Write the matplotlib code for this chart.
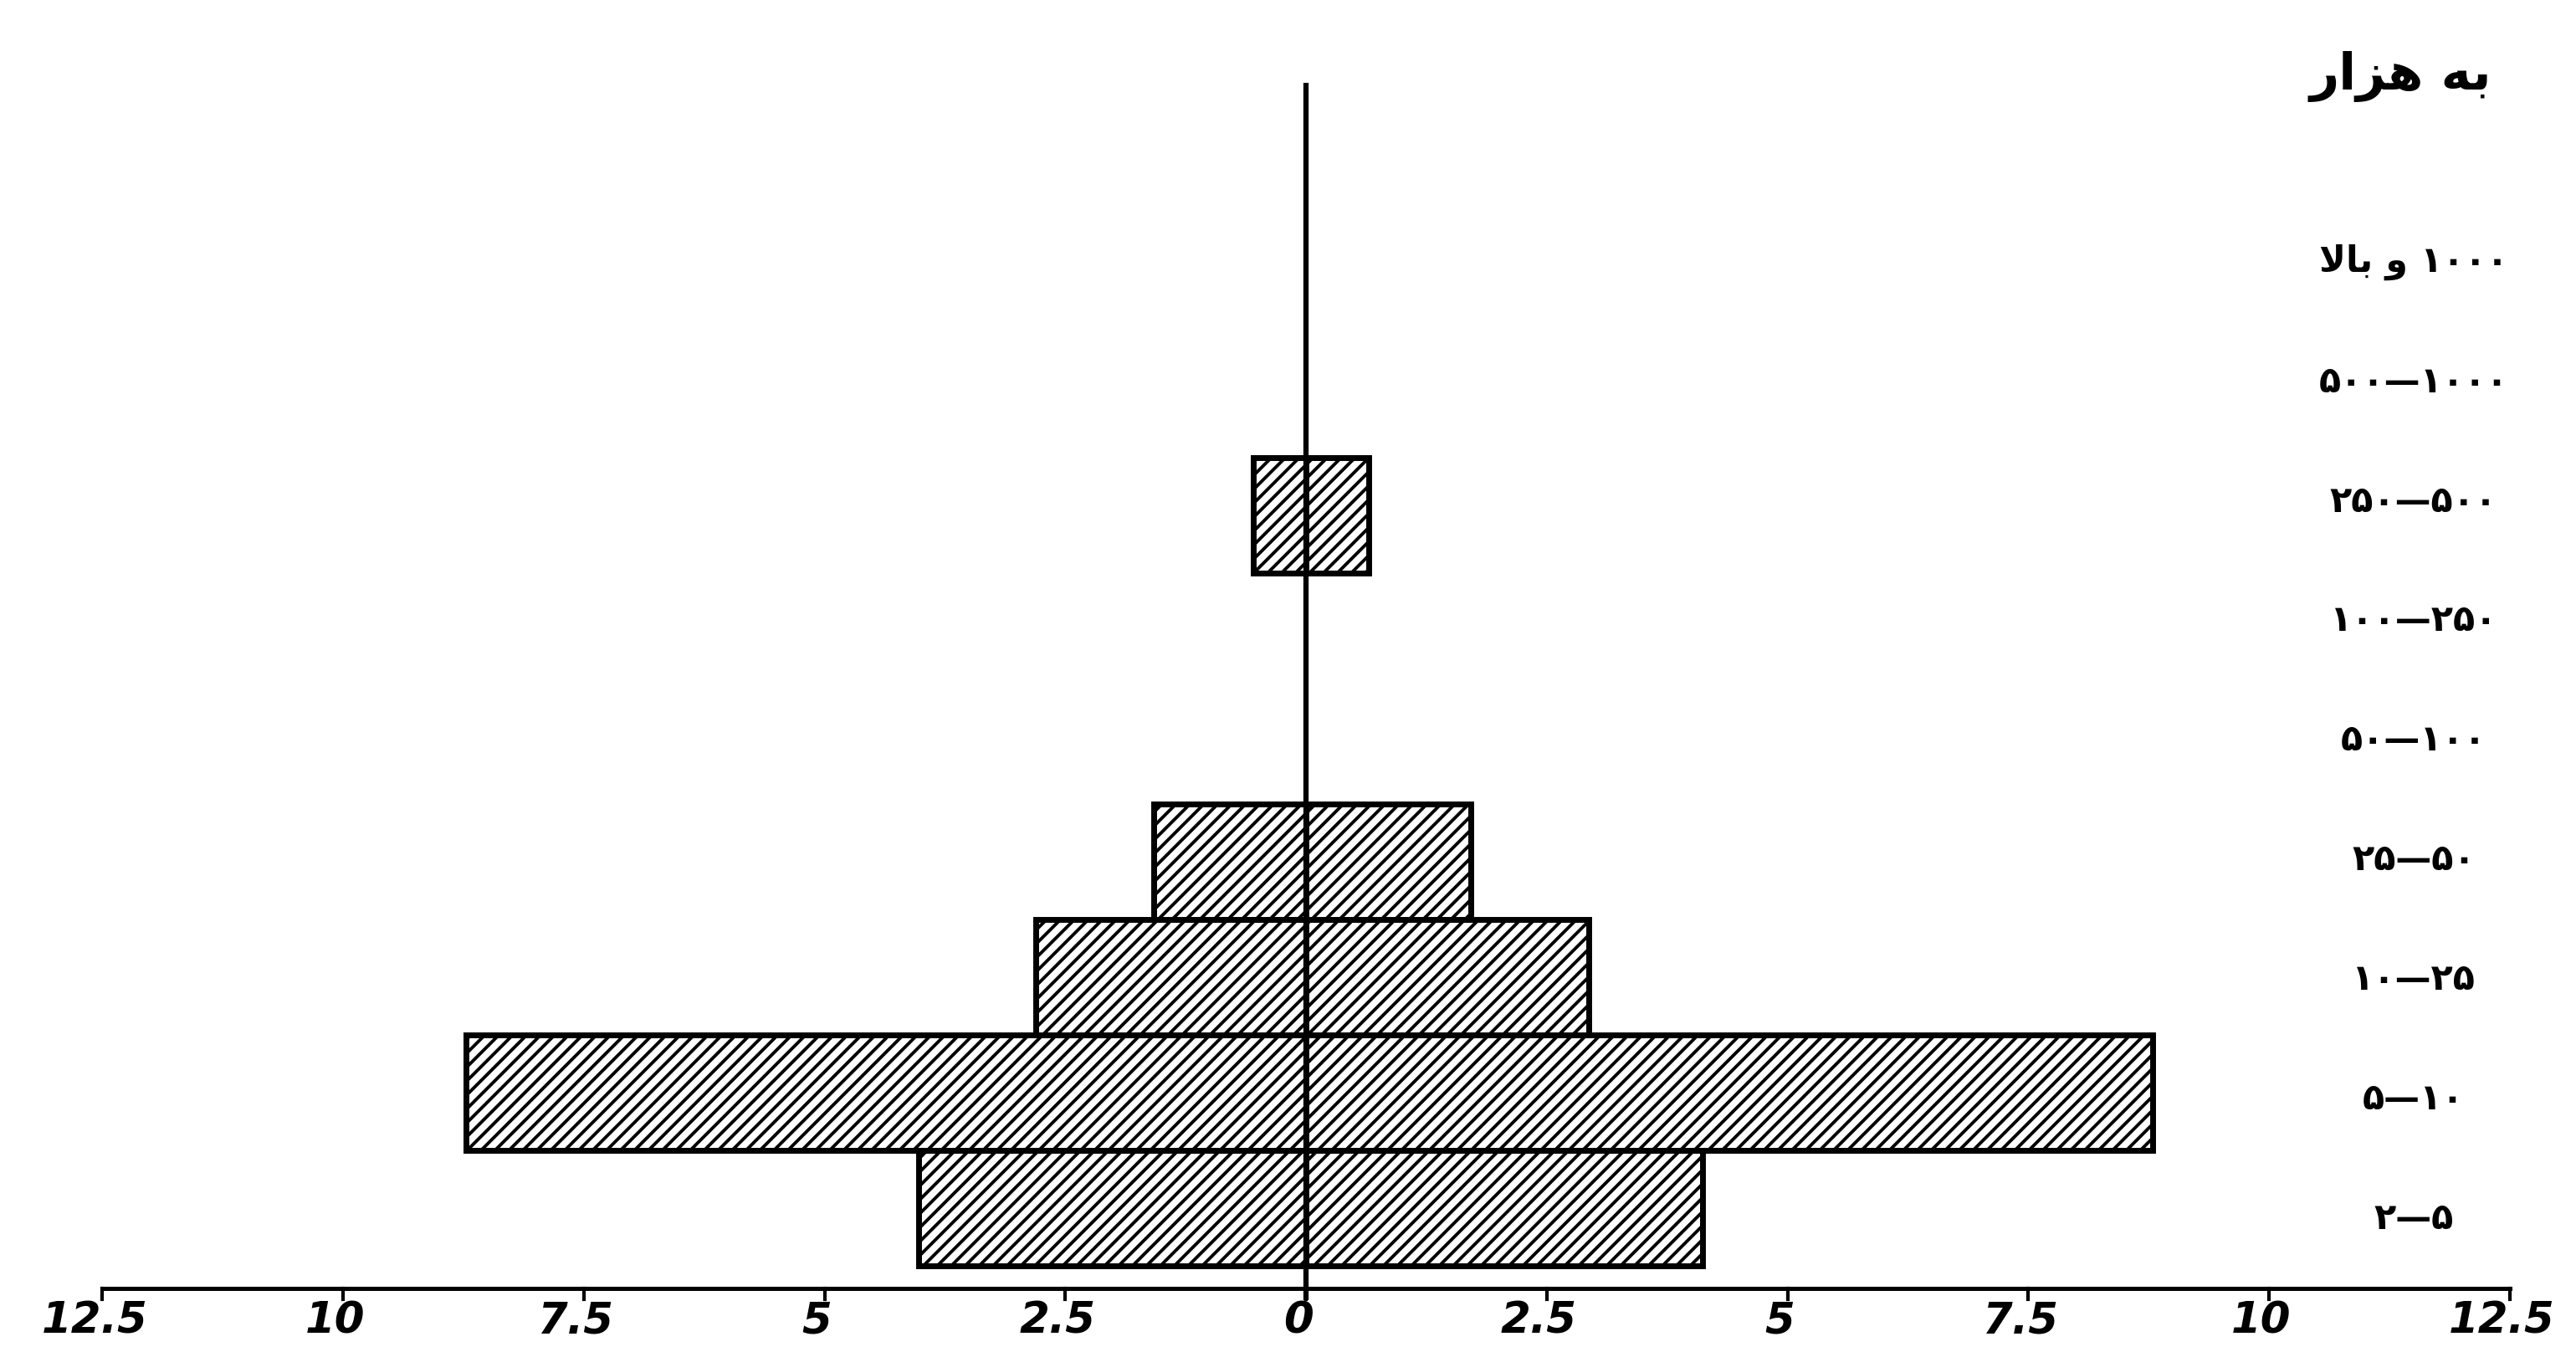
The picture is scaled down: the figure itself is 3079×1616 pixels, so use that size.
import matplotlib
matplotlib.use("Agg")
import matplotlib.pyplot as plt

# ---- data (rows bottom -> top) ----
categories = ["۲—۵", "۵—۱۰", "۱۰—۲۵", "۲۵—۵۰", "۵۰—۱۰۰", "۱۰۰—۲۵۰",
              "۲۵۰—۵۰۰", "۵۰۰—۱۰۰۰", "\uFEFB\uFE8E\uFE91 \u0648 ۱۰۰۰"]
left_values = [4.02, 8.72, 2.81, 1.58, 0, 0, 0.55, 0, 0]
right_values = [4.12, 8.79, 2.94, 1.71, 0, 0, 0.65, 0, 0]
tick_values = [-12.5, -10, -7.5, -5, -2.5, 0, 2.5, 5, 7.5, 10, 12.5]
tick_labels = ["12.5", "10", "7.5", "5", "2.5", "0", "2.5", "5", "7.5", "10", "12.5"]
unit_label = "\uFEAD\uFE8D\uFEB0\uFEEB \uFEEA\uFE91"

plt.rcParams["hatch.linewidth"] = 2.8

W, H, DPI = 3079, 1616, 100
fig = plt.figure(figsize=(W / DPI, H / DPI), dpi=DPI)
ax = fig.add_axes([0, 0, 1, 1])
px_per_unit = 115.1
row_px = 138.0
x0_px, y0_px = 1561.0, 1444.0
ax.set_xlim(-x0_px / px_per_unit, (W - x0_px) / px_per_unit)
ax.set_ylim((y0_px - H) / row_px, y0_px / row_px)
ax.axis("off")

rows = list(range(len(categories)))
for r, lv, rv in zip(rows, left_values, right_values):
    if lv > 0:
        ax.barh(r, -lv, height=1.0, left=0, color="white", edgecolor="black",
                hatch="//", linewidth=5, zorder=2)
    if rv > 0:
        ax.barh(r, rv, height=1.0, left=0, color="white", edgecolor="black",
                hatch="//", linewidth=5, zorder=2)

# central vertical line
ax.plot([0, 0], [-0.80, 9.75], color="black", lw=4.5, zorder=3, solid_capstyle="butt")

# horizontal axis
y_ax = (y0_px - 1540) / row_px
ax.plot([tick_values[0], tick_values[-1]], [y_ax, y_ax], color="black", lw=3.6, zorder=3)
tick_len = 13 / row_px
for t, lab in zip(tick_values, tick_labels):
    ax.plot([t, t], [y_ax, y_ax - tick_len], color="black", lw=3, zorder=3)
    ax.text(t - 0.08, (y0_px - 1580) / row_px, lab, ha="center", va="center",
            fontsize=37, fontweight="bold", fontstyle="italic",
            family=["DejaVu Sans"])

# category labels on the right (label column spacing slightly larger than rows)
label_x = (2885 - x0_px) / px_per_unit
label_step = 142.9 / row_px
label_base = (y0_px - 1457) / row_px
for r, lab in zip(rows, categories):
    ax.text(label_x, label_base + r * label_step, lab, ha="center", va="center",
            fontsize=31, fontweight="bold", family=["DejaVu Sans"])

ax.text((2869 - x0_px) / px_per_unit, (y0_px - 92) / row_px, unit_label,
        ha="center", va="center", fontsize=44, fontweight="bold",
        family=["DejaVu Sans"])

fig.savefig("out.png", dpi=DPI, facecolor="white")
